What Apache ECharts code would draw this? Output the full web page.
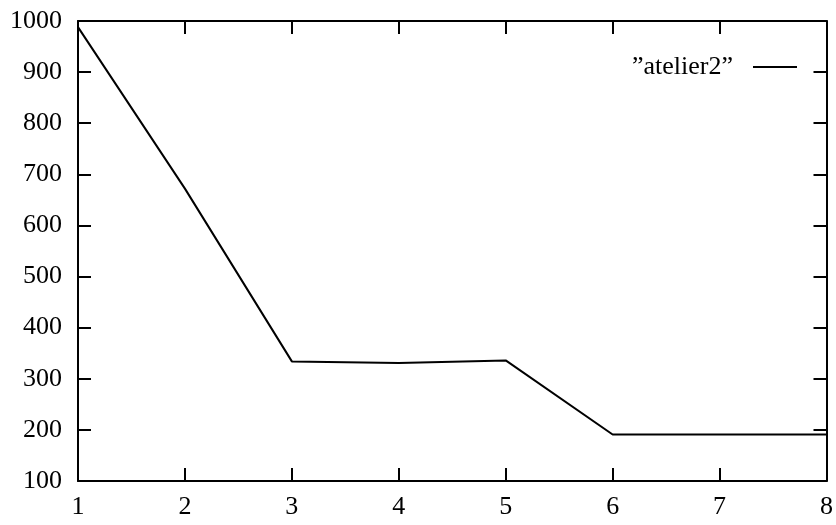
<!DOCTYPE html>
<html>
<head>
<meta charset="utf-8">
<script src="https://cdn.jsdelivr.net/npm/echarts@6/dist/echarts.min.js"></script>
<style>html,body{margin:0;padding:0;background:#fff;}#c{width:836px;height:525px;}</style>
</head>
<body>
<div id="c"></div>
<script>
var xValues = [1, 2, 3, 4, 5, 6, 7, 8];
var yValues = [988, 672, 334, 331, 336, 191, 191, 191];
var seriesName = '\u201Datelier2\u201D';

var font = 'Liberation Serif';
var chart = echarts.init(document.getElementById('c'));
var tick = {show: true, inside: true, length: 13, lineStyle: {color: '#000', width: 2}};
var line = {show: true, onZero: false, lineStyle: {color: '#000', width: 2}};
function plain(v) { return String(v); }
chart.setOption({
  animation: false,
  backgroundColor: '#fff',
  grid: {left: 78, right: 9, top: 21, bottom: 44, containLabel: false},
  legend: {
    data: [{name: seriesName, icon: 'rect'}],
    right: 34, top: 49, align: 'right',
    itemWidth: 44, itemHeight: 2,
    textStyle: {fontFamily: font, fontSize: 26, color: '#000', padding: [0, 15, 0, 0]}
  },
  xAxis: [
    {type: 'value', min: 1, max: 8, interval: 1, position: 'bottom',
     axisLine: line, axisTick: tick, splitLine: {show: false},
     axisLabel: {fontFamily: font, fontSize: 26, color: '#000', margin: 13, formatter: plain}},
    {type: 'value', min: 1, max: 8, interval: 1, position: 'top',
     axisLine: line, axisTick: tick, splitLine: {show: false}, axisLabel: {show: false}}
  ],
  yAxis: [
    {type: 'value', min: 100, max: 1000, interval: 100, position: 'left',
     axisLine: line, axisTick: tick, splitLine: {show: false},
     axisLabel: {fontFamily: font, fontSize: 26, color: '#000', margin: 16, formatter: plain}},
    {type: 'value', min: 100, max: 1000, interval: 100, position: 'right',
     axisLine: line, axisTick: tick, splitLine: {show: false}, axisLabel: {show: false}}
  ],
  series: [{
    name: seriesName, type: 'line', symbol: 'none',
    data: xValues.map(function (x, i) { return [x, yValues[i]]; }),
    lineStyle: {color: '#000', width: 2}, itemStyle: {color: '#000'}
  }]
});
</script>
</body>
</html>
